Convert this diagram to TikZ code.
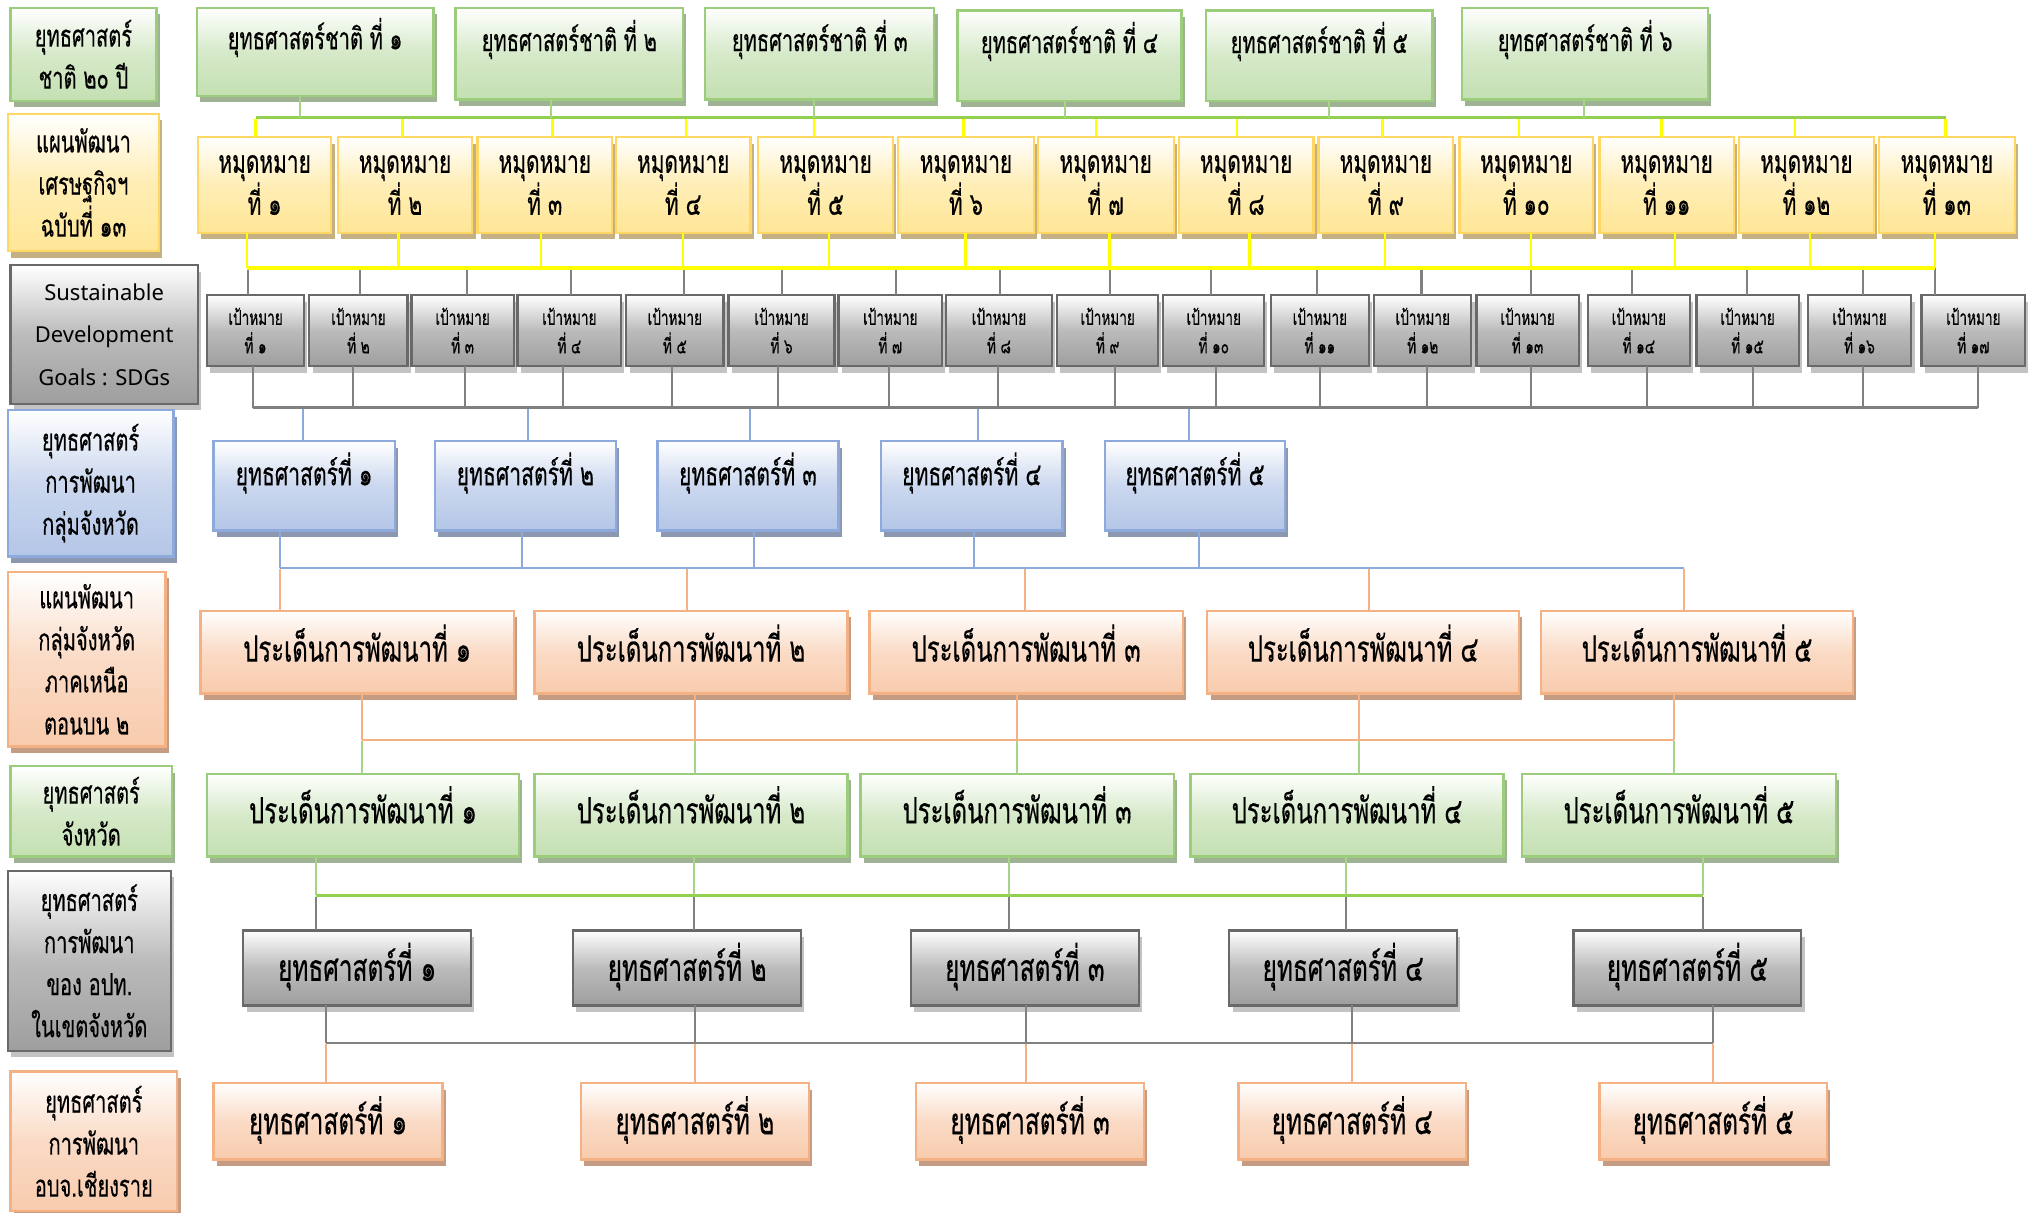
\documentclass[tikz,border=0pt]{standalone}
\usepackage{fontspec}
\usetikzlibrary{shadows}
\newfontfamily\thai[Script=Thai,FakeStretch=0.66,FakeBold=0.4]{Loma}
\newfontfamily\sdgfont{Noto Sans}
\definecolor{gB}{RGB}{155,205,125}
\definecolor{gF}{RGB}{196,224,178}
\definecolor{gS}{RGB}{160,178,148}
\definecolor{yB}{RGB}{255,215,100}
\definecolor{yF}{RGB}{255,230,150}
\definecolor{yS}{RGB}{196,176,130}
\definecolor{kB}{RGB}{105,105,105}
\definecolor{kF}{RGB}{158,158,158}
\definecolor{kS}{RGB}{195,195,195}
\definecolor{bB}{RGB}{142,169,219}
\definecolor{bF}{RGB}{180,198,231}
\definecolor{bS}{RGB}{140,152,175}
\definecolor{oB}{RGB}{244,177,131}
\definecolor{oF}{RGB}{248,203,173}
\definecolor{oS}{RGB}{196,156,132}
\definecolor{gL}{RGB}{146,208,80}
\definecolor{gLd}{RGB}{165,212,135}
\definecolor{yL}{RGB}{255,255,0}
\definecolor{kL}{RGB}{128,128,128}
\definecolor{bL}{RGB}{142,169,219}
\definecolor{oL}{RGB}{244,177,131}
\tikzset{
  box/.style={draw, line width=1.8pt, inner sep=0pt, outer sep=0pt, align=center, text=black},
  gbox/.style={box, draw=gB, top color=white, bottom color=gF, middle color=gF!70!white,
    drop shadow={shadow xshift=2.5pt, shadow yshift=-5pt, fill=gS, opacity=1}},
  ybox/.style={box, draw=yB, top color=white, bottom color=yF, middle color=yF!70!white,
    drop shadow={shadow xshift=2.5pt, shadow yshift=-5pt, fill=yS, opacity=1}},
  kbox/.style={box, draw=kB, top color=white, bottom color=kF, middle color=kF!70!white,
    drop shadow={shadow xshift=2.5pt, shadow yshift=-5pt, fill=kS, opacity=1}},
  bbox/.style={box, draw=bB, top color=white, bottom color=bF, middle color=bF!70!white,
    drop shadow={shadow xshift=2.5pt, shadow yshift=-5pt, fill=bS, opacity=1}},
  obox/.style={box, draw=oB, top color=white, bottom color=oF, middle color=oF!70!white,
    drop shadow={shadow xshift=2.5pt, shadow yshift=-5pt, fill=oS, opacity=1}},
  flab/.style={font=\thai\fontsize{23.5}{32.5}\selectfont},
  fsdg/.style={font=\sdgfont\fontsize{17}{33}\selectfont},
  fA/.style={font=\thai\fontsize{23.5}{30}\selectfont},
  fB/.style={font=\thai\fontsize{24.4}{29}\selectfont},
  fC/.style={font=\thai\fontsize{15.9}{22}\selectfont},
  fD/.style={font=\thai\fontsize{24.7}{30}\selectfont},
  fE/.style={font=\thai\fontsize{28}{30}\selectfont},
  fG/.style={font=\thai\fontsize{28.6}{30}\selectfont},
  gdrop/.style={draw=gLd, line width=1.6pt},
  gbus/.style={draw=gL, line width=2.2pt},
  ydrop/.style={draw=yL, line width=1.8pt},
  ybus/.style={draw=yL, line width=2.6pt},
  kdrop/.style={draw=kL, line width=1.6pt},
  kbus/.style={draw=kL, line width=2pt},
  bdrop/.style={draw=bL, line width=1.6pt},
  bbus/.style={draw=bL, line width=2pt},
  odrop/.style={draw=oL, line width=1.6pt},
  obus/.style={draw=oL, line width=2pt},
}
% name, style, x1, y1, x2, y2, raise, text
\newcommand\mybox[8]{%
  \node[#2, minimum width={(#5-#3)*1pt}, minimum height={(#6-#4)*1pt}]
    (#1) at ({(#3+#5)/2},{(#4+#6)/2}) {\raisebox{#7pt}[\height][\depth]{#8}};}
\newcommand\mylab[7]{%
  \node[#2, minimum width={(#5-#3)*1pt}, minimum height={(#6-#4)*1pt}]
    (#1) at ({(#3+#5)/2},{(#4+#6)/2}) {#7};}
\begin{document}
\begin{tikzpicture}[x=1pt,y=-1pt]
\useasboundingbox (0,0) rectangle (1568,937);
% ---------- left labels
\mylab{L1}{gbox,flab}{8}{6}{121}{78}{ยุทธศาสตร์\\ชาติ ๒๐ ปี}
\mylab{L2}{ybox,flab}{6}{88}{123}{194}{แผนพัฒนา\\เศรษฐกิจฯ\\ฉบับที่ ๑๓}
\mylab{L3}{kbox,fsdg}{8}{205}{153}{312}{Sustainable\\Development\\Goals : SDGs}
\mylab{L4}{bbox,flab}{6}{317}{134}{430}{ยุทธศาสตร์\\การพัฒนา\\กลุ่มจังหวัด}
\mylab{L5}{obox,flab}{6}{442}{128}{577}{แผนพัฒนา\\กลุ่มจังหวัด\\ภาคเหนือ\\ตอนบน ๒}
\mylab{L6}{gbox,flab}{8}{592}{133}{662}{ยุทธศาสตร์\\จังหวัด}
\mylab{L7}{kbox,flab}{6}{673}{132}{812}{ยุทธศาสตร์\\การพัฒนา\\ของ อปท.\\ในเขตจังหวัด}
\mylab{L8}{obox,flab}{8}{828}{137}{936}{ยุทธศาสตร์\\การพัฒนา\\อบจ.เชียงราย}
% ---------- row A
\mybox{A1}{gbox,fA}{152}{6}{335}{74}{11}{ยุทธศาสตร์ชาติ ที่ ๑}
\mybox{A2}{gbox,fA}{352}{6}{528}{77}{11}{ยุทธศาสตร์ชาติ ที่ ๒}
\mybox{A3}{gbox,fA}{545}{6}{722}{77}{11}{ยุทธศาสตร์ชาติ ที่ ๓}
\mybox{A4}{gbox,fA}{740}{8}{913}{78}{11}{ยุทธศาสตร์ชาติ ที่ ๔}
\mybox{A5}{gbox,fA}{932}{8}{1107}{78}{11}{ยุทธศาสตร์ชาติ ที่ ๕}
\mybox{A6}{gbox,fA}{1130}{6}{1320}{77}{11}{ยุทธศาสตร์ชาติ ที่ ๖}
% ---------- row B
\foreach \n/\a/\b/\t in {B1/153/256/๑, B2/261/365/๒, B3/369/473/๓, B4/476/580/๔,
  B5/586/690/๕, B6/694/799/๖, B7/802/907/๗, B8/911/1015/๘, B9/1019/1123/๙,
  B10/1128/1231/๑๐, B11/1236/1340/๑๑, B12/1344/1448/๑๒, B13/1452/1557/๑๓}
  {\mylab{\n}{ybox,fB}{\a}{106}{\b}{180}{หมุดหมาย\\ที่ \t}}
% ---------- row C
\foreach \n/\a/\b/\t in {C1/160/235/๑, C2/239/315/๒, C3/318/397/๓, C4/400/480/๔,
  C5/484/559/๕, C6/563/645/๖, C7/648/728/๗, C8/731/813/๘, C9/817/895/๙,
  C10/899/977/๑๐, C11/982/1058/๑๑, C12/1062/1137/๑๒, C13/1141/1220/๑๓,
  C14/1227/1306/๑๔, C15/1311/1390/๑๕, C16/1397/1477/๑๖, C17/1485/1565/๑๗}
  {\mylab{\n}{kbox,fC}{\a}{228}{\b}{283}{เป้าหมาย\\ที่ \t}}
% ---------- row D
\foreach \n/\a/\b/\t in {D1/165/305/๑, D2/336/476/๒, D3/508/648/๓, D4/681/821/๔, D5/854/993/๕}
  {\mybox{\n}{bbox,fD}{\a}{341}{\b}{410}{10}{ยุทธศาสตร์ที่ \t}}
% ---------- row E
\foreach \n/\a/\b/\t in {E1/155/397/๑, E2/413/655/๒, E3/672/914/๓, E4/933/1174/๔, E5/1191/1432/๕}
  {\mybox{\n}{obox,fE}{\a}{472}{\b}{536}{7}{ประเด็นการพัฒนาที่ \t}}
% ---------- row F
\foreach \n/\a/\b/\t in {F1/160/401/๑, F2/413/655/๒, F3/665/907/๓, F4/920/1162/๔, F5/1176/1419/๕}
  {\mybox{\n}{gbox,fE}{\a}{598}{\b}{662}{8}{ประเด็นการพัฒนาที่ \t}}
% ---------- row G
\foreach \n/\a/\b/\t in {G1/188/364/๑, G2/443/619/๒, G3/704/880/๓, G4/950/1126/๔, G5/1216/1392/๕}
  {\mybox{\n}{kbox,fG}{\a}{719}{\b}{777}{1}{ยุทธศาสตร์ที่ \t}}
% ---------- row H
\foreach \n/\a/\b/\t in {H1/165/342/๑, H2/449/625/๒, H3/708/884/๓, H4/957/1133/๔, H5/1236/1412/๕}
  {\mybox{\n}{obox,fG}{\a}{837}{\b}{896}{1}{ยุทธศาสตร์ที่ \t}}
% ================= connectors
% bus A (green)
\draw[gbus] (197.5,91) -- (1503.5,91);
\foreach \n/\x in {A1/232,A2/426,A3/629,A4/823,A5/1027,A6/1224}
  \draw[gdrop] (\n.south -| \x,91) -- (\x,91);
\foreach \n/\x in {B1/197.5,B2/311,B3/427,B4/530,B5/629,B6/744.5,B7/847,B8/956,
  B9/1068.5,B10/1174,B11/1284,B12/1387,B13/1503.5}
  \draw[ydrop] (\x,92) -- (\n.north -| \x,91);
% bus B (yellow)
\foreach \n/\x in {C1/191.5,C2/278,C3/361,C4/441.5,C5/528.5,C6/604.5,C7/692.5,C8/773,
  C9/858,C10/936,C11/1018,C12/1098.5,C13/1183,C14/1261.5,C15/1350,C16/1440,C17/1495.5}
  \draw[kdrop] (\x,207) -- (\n.north -| \x,207);
\draw[ybus] (191,207) -- (1495.5,207);
\foreach \n/\x in {B1/191,B2/308,B3/418,B4/528,B5/640.5,B6/746,B7/857.5,B8/965.5,
  B9/1070.5,B10/1183,B11/1294.5,B12/1398.5,B13/1495.5}
  \draw[ydrop] (\n.south -| \x,207) -- (\x,207);
% bus C (gray)
\draw[kbus] (195.5,315) -- (1528.5,315);
\foreach \n/\x in {C1/195.5,C2/272.5,C3/359,C4/435,C5/519,C6/601,C7/687,C8/771,
  C9/862,C10/940,C11/1020,C12/1103,C13/1183,C14/1273,C15/1355,C16/1440,C17/1528.5}
  \draw[kdrop] (\n.south -| \x,315) -- (\x,315);
\foreach \n/\x in {D1/234.5,D2/408,D3/579.5,D4/756,D5/919}
  \draw[bdrop] (\x,316) -- (\n.north -| \x,315);
% bus D (blue)
\foreach \n/\x in {E1/216.5,E2/531,E3/792,E4/1058,E5/1301.5}
  \draw[odrop] (\x,440) -- (\n.north -| \x,439);
\draw[bbus] (216.5,439) -- (1301.5,439);
\foreach \n/\x in {D1/216.5,D2/403.5,D3/582.5,D4/753,D5/926.5}
  \draw[bdrop] (\n.south -| \x,439) -- (\x,439);
% bus E (orange)
\foreach \n/\x in {F1/279.5,F2/537,F3/786,F4/1050.5,F5/1293.5}
  \draw[gdrop] (\x,573) -- (\n.north -| \x,572);
\draw[obus] (279.5,572) -- (1293.5,572);
\foreach \n/\x in {E1/279.5,E2/537,E3/786,E4/1050.5,E5/1293.5}
  \draw[odrop] (\n.south -| \x,572) -- (\x,572);
% bus F (green)
\foreach \n/\x in {G1/244,G2/536,G3/780,G4/1040,G5/1316}
  \draw[kdrop] (\x,693) -- (\n.north -| \x,692);
\draw[gbus] (244,692) -- (1316,692);
\foreach \n/\x in {F1/244,F2/536,F3/780,F4/1040,F5/1316}
  \draw[gdrop] (\n.south -| \x,692) -- (\x,692);
% bus G (gray)
\foreach \n/\x in {H1/252,H2/537,H3/793,H4/1045,H5/1324}
  \draw[odrop] (\x,807) -- (\n.north -| \x,806);
\draw[kbus] (252,806) -- (1324,806);
\foreach \n/\x in {G1/252,G2/537,G3/793,G4/1045,G5/1324}
  \draw[kdrop] (\n.south -| \x,806) -- (\x,806);
\end{tikzpicture}
\end{document}
